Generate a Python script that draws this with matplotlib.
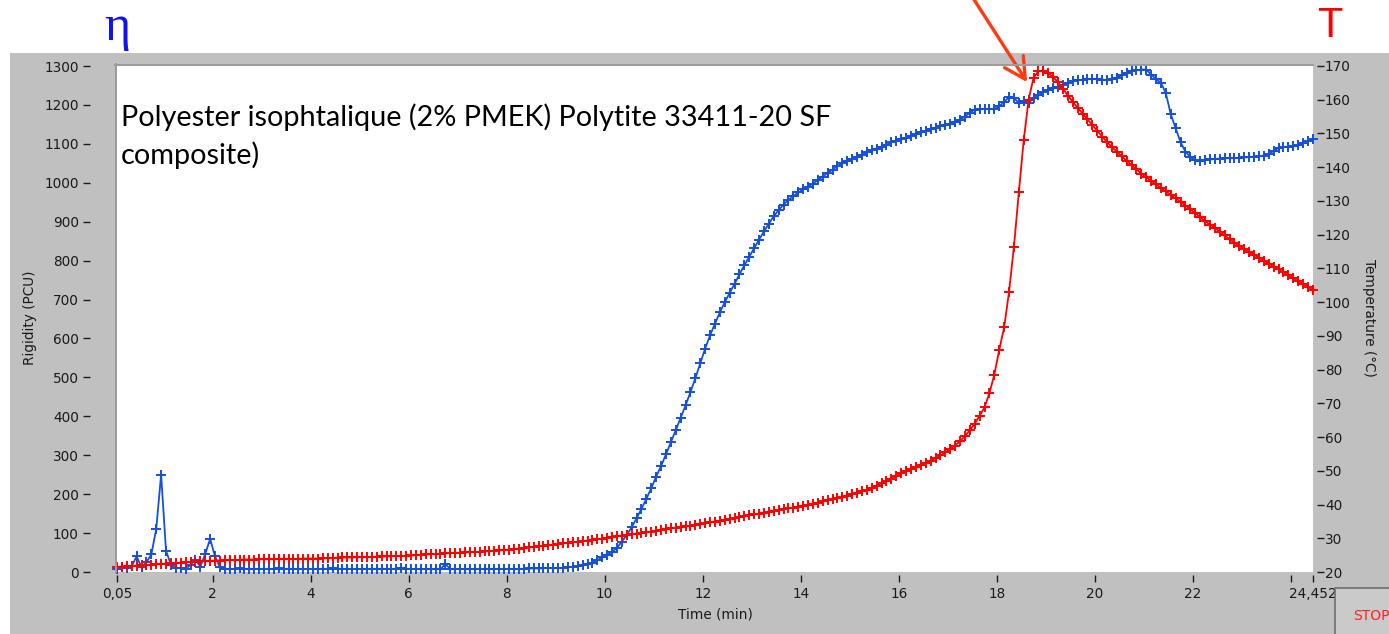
import numpy as np
import matplotlib
matplotlib.use('Agg')
import matplotlib.pyplot as plt
from matplotlib.patches import Rectangle
from matplotlib.lines import Line2D

# ---------------- data ----------------
time_min = np.round(np.arange(0.05, 24.451, 0.1), 2)   # sampling grid, min

rigidity_pcu = [
    8, 12, 10, 15, 40, 12, 25, 45, 110, 250,
    55, 18, 10, 10, 8, 18, 32, 14, 46, 85,
    40, 12, 8, 8, 8, 9, 8, 8, 8, 8,
    8, 8, 8, 9, 8, 8, 8, 8, 8, 8,
    8, 8, 8, 8, 9, 8, 8, 8, 8, 8,
    8, 8, 8, 8, 8, 8, 8, 8, 9, 8,
    8, 8, 8, 8, 8, 8, 8, 20, 8, 8,
    8, 8, 8, 8, 8, 8, 8, 8, 8, 8,
    8, 8, 8, 8, 9, 9, 9, 10, 10, 10,
    10, 11, 12, 13, 15, 17, 20, 24, 30, 38,
    44, 52, 62, 78, 95, 115, 138, 162, 188, 215,
    245, 272, 302, 333, 364, 396, 428, 462, 498, 536,
    574, 608, 638, 667, 693, 717, 740, 765, 788, 810,
    832, 854, 875, 895, 914, 930, 944, 956, 966, 975,
    983, 990, 998, 1007, 1016, 1025, 1034, 1043, 1051, 1057,
    1062, 1067, 1072, 1078, 1083, 1088, 1093, 1098, 1104, 1108,
    1112, 1116, 1121, 1125, 1130, 1134, 1138, 1141, 1145, 1148,
    1152, 1156, 1162, 1170, 1180, 1188, 1190, 1190, 1189, 1190,
    1196, 1208, 1220, 1218, 1205, 1210, 1205, 1218, 1226, 1233,
    1238, 1243, 1247, 1252, 1257, 1261, 1263, 1265, 1266, 1266,
    1267, 1265, 1264, 1266, 1270, 1276, 1282, 1287, 1289, 1291,
    1291, 1278, 1266, 1257, 1230, 1176, 1140, 1104, 1080, 1066,
    1058, 1055, 1058, 1060, 1061, 1062, 1063, 1063, 1064, 1064,
    1065, 1066, 1067, 1068, 1070, 1073, 1082, 1090, 1092, 1093,
    1095, 1097, 1102, 1107, 1112,
]

temperature_c = [
    21.5, 21.6, 21.7, 21.8, 21.9, 22.0, 22.1, 22.2, 22.3, 22.4,
    22.5, 22.6, 22.7, 22.8, 22.9, 23.0, 23.1, 23.2, 23.2, 23.3,
    23.4, 23.4, 23.5, 23.5, 23.6, 23.6, 23.7, 23.7, 23.7, 23.8,
    23.8, 23.8, 23.8, 23.9, 23.9, 23.9, 23.9, 23.9, 24.0, 24.0,
    24.0, 24.0, 24.1, 24.1, 24.2, 24.2, 24.3, 24.3, 24.3, 24.4,
    24.4, 24.4, 24.5, 24.5, 24.6, 24.6, 24.7, 24.7, 24.7, 24.8,
    24.9, 25.0, 25.1, 25.2, 25.3, 25.3, 25.4, 25.5, 25.6, 25.6,
    25.7, 25.8, 25.9, 25.9, 26.0, 26.1, 26.2, 26.3, 26.4, 26.5,
    26.6, 26.8, 26.9, 27.1, 27.3, 27.4, 27.6, 27.8, 27.9, 28.1,
    28.3, 28.5, 28.6, 28.8, 29.0, 29.2, 29.3, 29.5, 29.7, 29.9,
    30.2, 30.4, 30.6, 30.8, 31.0, 31.2, 31.4, 31.6, 31.8, 32.0,
    32.3, 32.5, 32.7, 32.9, 33.1, 33.3, 33.5, 33.7, 33.9, 34.1,
    34.4, 34.7, 34.9, 35.2, 35.5, 35.7, 36.0, 36.2, 36.5, 36.8,
    37.1, 37.3, 37.6, 37.8, 38.1, 38.3, 38.6, 38.9, 39.1, 39.4,
    39.7, 40.0, 40.3, 40.6, 40.9, 41.2, 41.5, 41.8, 42.2, 42.5,
    43.0, 43.4, 43.9, 44.4, 45.0, 45.6, 46.3, 47.0, 47.7, 48.5,
    49.3, 49.9, 50.5, 51.1, 51.7, 52.3, 53.0, 53.8, 54.6, 55.5,
    56.5, 57.5, 58.8, 60.3, 62.0, 64.0, 66.3, 68.8, 73.0, 78.5,
    85.8, 92.5, 103.0, 116.4, 132.5, 148.0, 160.0, 166.5, 168.5, 168.4,
    167.8, 166.7, 165.2, 163.3, 161.2, 159.4, 157.6, 155.9, 154.2, 152.5,
    150.8, 149.1, 147.4, 146.0, 144.6, 143.2, 141.9, 140.6, 139.4, 138.1,
    137.0, 136.0, 134.9, 133.9, 132.8, 131.8, 130.8, 129.7, 128.6, 127.5,
    126.4, 125.2, 124.0, 123.0, 122.0, 120.9, 119.8, 118.7, 117.6, 116.6,
    115.7, 114.8, 114.0, 113.1, 112.3, 111.4, 110.5, 109.7, 108.8, 108.0,
    107.1, 106.2, 105.4, 104.5, 103.6,
]

x_ticks = [0.05, 2, 4, 6, 8, 10, 12, 14, 16, 18, 20, 22, 24, 24.452]
x_tick_labels = ['0,05', '2', '4', '6', '8', '10', '12', '14', '16', '18',
                 '20', '22', '', '24,452']
left_ticks = list(range(0, 1301, 100))
right_ticks = list(range(20, 171, 10))

title_line1 = "Polyester isophtalique (2% PMEK) Polytite 33411-20 SF"
title_line2 = "composite)"

assert len(time_min) == len(rigidity_pcu) == len(temperature_c)

# ---------------- layout ----------------
W, H = 1389, 634
fig = plt.figure(figsize=(W / 100, H / 100), dpi=100)
fig.patch.set_facecolor('white')

def fx(px):
    return px / W

def fy(py):
    return 1 - py / H

PT = 72 / 100  # points per pixel

# gray LabVIEW panel (behind everything)
fig.patches.append(Rectangle((fx(10), 0), 1 - fx(10), fy(53),
                             transform=fig.transFigure, facecolor='#c0c0c0',
                             edgecolor='none', zorder=-10))

L, R, T, B = 117, 1313, 66, 572
ax = fig.add_axes([fx(L), fy(B), fx(R) - fx(L), fy(T) - fy(B)])
ax.set_facecolor('white')
ax2 = ax.twinx()

blue = '#1450dc'
red = '#ff0000'

ax.plot(time_min, rigidity_pcu, color=blue, lw=1.3, marker='+', ms=7,
        mew=1.4, clip_on=False, zorder=3)
ax2.plot(time_min, temperature_c, color=red, lw=1.3, marker='+', ms=7,
         mew=1.4, clip_on=False, zorder=3)

ax.set_xlim(0.05, 24.452)
ax.set_ylim(0, 1300)
ax2.set_ylim(20, 170)

for a in (ax, ax2):
    for s in a.spines.values():
        s.set_color('none')

ax.spines['left'].set_position(('outward', 27 * PT))
ax.spines['bottom'].set_position(('outward', 3 * PT))
ax2.spines['right'].set_position(('outward', 4 * PT))

tick_font = dict(labelsize=9.8, colors='#1a1a1a')
ax.set_yticks(left_ticks)
ax.set_yticklabels([str(v) for v in left_ticks])
ax.tick_params(axis='y', direction='out', length=5, width=1, pad=3, **tick_font)
ax.set_xticks(x_ticks)
ax.set_xticklabels(x_tick_labels)
ax.tick_params(axis='x', direction='out', length=5, width=1, pad=3.5, **tick_font)
ax2.set_yticks(right_ticks)
ax2.set_yticklabels([str(v) for v in right_ticks])
ax2.tick_params(axis='y', direction='out', length=5, width=1, pad=0.8, **tick_font)

# inset border (top & left darker)
fig.lines.append(Line2D([fx(115), fx(R)], [fy(65), fy(65)], transform=fig.transFigure,
                        color='#9c9c9c', lw=2 * PT, zorder=5))
fig.lines.append(Line2D([fx(116), fx(116)], [fy(64), fy(B)], transform=fig.transFigure,
                        color='#9c9c9c', lw=2 * PT, zorder=5))

# axis labels
fig.text(fx(30), fy(318), 'Rigidity (PCU)', rotation=90, ha='center', va='center',
         fontsize=9.8, color='#1a1a1a')
fig.text(fx(1369), fy(318), 'Temperature (°C)', rotation=270, ha='center', va='center',
         fontsize=9.8, color='#1a1a1a')
fig.text(fx(715), fy(614), 'Time (min)', ha='center', va='center',
         fontsize=9.8, color='#1a1a1a')

# title inside plot, fit to reference width
t1 = fig.text(fx(121), fy(126), title_line1, ha='left', va='baseline',
              fontsize=20, family='Lato', color='black', zorder=6)
fig.canvas.draw()
rend = fig.canvas.get_renderer()
wpx = t1.get_window_extent(rend).width
fs = 20 * 711 / wpx
t1.set_fontsize(fs)
fig.text(fx(121), fy(164), title_line2, ha='left', va='baseline',
         fontsize=fs, family='Lato', color='black', zorder=6)

# eta and T symbols
fig.text(fx(117), fy(40), 'η', ha='center', va='baseline', fontsize=36,
         family=['Liberation Serif', 'DejaVu Serif'], color='#1010ff')
fig.text(fx(1330), fy(37), 'T', ha='center', va='baseline', fontsize=30,
         family=['Liberation Sans', 'DejaVu Sans'], color='#ff0000')

# red arrow pointing at the exotherm peak
ax2.annotate('', xy=(18.62, 165.2), xycoords='data',
             xytext=(fx(973), fy(-2)), textcoords='figure fraction',
             arrowprops=dict(arrowstyle='->,head_length=0.75,head_width=0.4',
                             mutation_scale=20, color='#ff3a12', lw=2.4,
                             shrinkA=0, shrinkB=0),
             annotation_clip=False, zorder=7)

# STOP button (partly outside the figure, as in the screenshot)
fig.patches.append(Rectangle((fx(1335), fy(650)), fx(80), fy(588) - fy(650),
                             transform=fig.transFigure, facecolor='#cacaca',
                             edgecolor='#6e6e6e', lw=1.2, zorder=4))
fig.text(fx(1353), fy(616), 'STOP', ha='left', va='center', fontsize=10,
         color='#ff2020', zorder=6)

fig.savefig('out.png', dpi=100, facecolor='white')
